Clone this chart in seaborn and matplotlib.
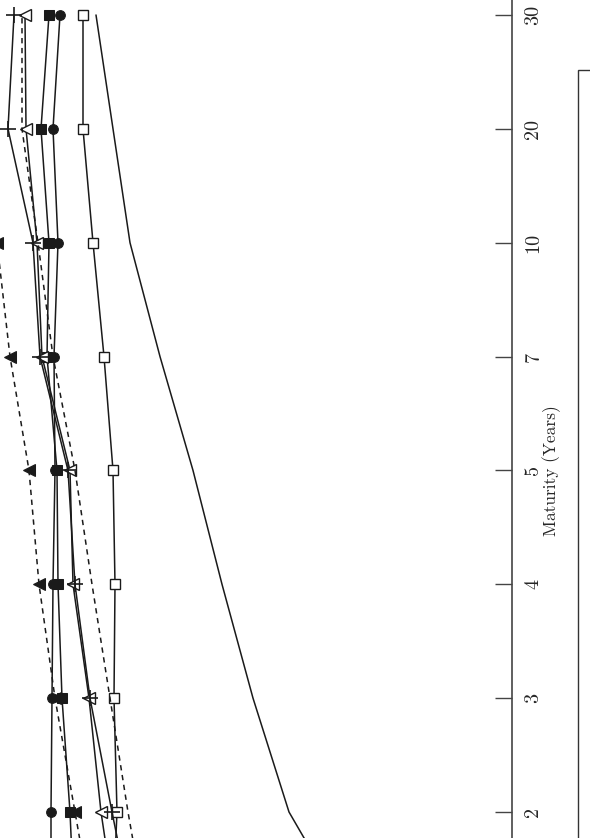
import matplotlib
matplotlib.use("Agg")
import matplotlib.pyplot as plt
import seaborn as sns
import numpy as np
from matplotlib.patches import Rectangle

# maturities (1 year sits just below the visible area)
maturity = ["1", "2", "3", "4", "5", "7", "10", "20", "30"]

# values (value axis runs right-to-left)
open_square = [4.88, 4.83, 4.86, 4.85, 4.87, 4.96, 5.07, 5.17, 5.17]
plain_line = [2.45, 3.11, 3.47, 3.78, 4.07, 4.40, 4.70, 4.87, 5.04]
filled_circle = [5.49, 5.49, 5.48, 5.47, 5.45, 5.46, 5.42, 5.47, 5.40]
filled_square = [5.25, 5.30, 5.38, 5.42, 5.43, 5.53, 5.51, 5.59, 5.51]
open_triangle = [4.82, 4.99, 5.11, 5.27, 5.30, 5.58, 5.63, 5.74, 5.75]
plus_series = [4.65, 4.88, 5.10, 5.25, 5.32, 5.60, 5.67, 5.92, 5.86]
dashed_line = [4.52, 4.72, 4.90, 5.08, 5.25, 5.47, 5.62, 5.78, 5.78]
filled_triangle = [5.05, 5.25, 5.45, 5.61, 5.71, 5.90, 6.03, 6.25, 6.35]

sns.set_style("white")
plt.rcParams["font.family"] = ["cmr10", "DejaVu Serif"]
plt.rcParams["axes.formatter.use_mathtext"] = True

pos = np.arange(len(maturity)) - 1

fig = plt.figure(figsize=(5.9, 8.38), dpi=100)
ax = fig.add_axes([0, 0, 512 / 590, 1])

ink = "#1a1a1a"
solid = dict(color=ink, lw=1.1, sort=False, estimator=None, ax=ax)
dash = (0, (3.5, 3))

sns.lineplot(x=plain_line, y=pos, **solid)
sns.lineplot(x=open_square, y=pos, marker="s", markersize=7,
             markerfacecolor="white", markeredgecolor=ink, markeredgewidth=1.0, **solid)
sns.lineplot(x=filled_circle, y=pos, marker="o", markersize=7,
             markerfacecolor=ink, markeredgecolor=ink, **solid)
sns.lineplot(x=filled_square, y=pos, marker="s", markersize=7,
             markerfacecolor=ink, markeredgecolor=ink, **solid)
sns.lineplot(x=open_triangle, y=pos, marker="<", markersize=8,
             markerfacecolor="white", markeredgecolor=ink, markeredgewidth=1.0, **solid)
sns.lineplot(x=plus_series, y=pos, marker="+", markersize=12,
             markeredgecolor=ink, markeredgewidth=1.2, **solid)
sns.lineplot(x=dashed_line, y=pos, color=ink, lw=1.1, ls=dash,
             sort=False, estimator=None, ax=ax)
sns.lineplot(x=filled_triangle, y=pos, marker="<", markersize=8,
             markerfacecolor=ink, markeredgecolor=ink, color=ink, lw=1.1,
             ls=dash, sort=False, estimator=None, ax=ax)

ax.set_xlim(6.0, 0.88)
ax.set_ylim((812 - 838) / 113.86, 812 / 113.86)

ax.set_xticks([])
ax.set_xlabel("")
ax.yaxis.tick_right()
ax.set_yticks(pos[1:])
ax.set_yticklabels(maturity[1:], rotation=90, va="center", fontsize=14.5)
ax.tick_params(axis="y", direction="in", length=12, width=1, color="#444", pad=9)
for side in ["left", "top", "bottom"]:
    ax.spines[side].set_visible(False)
ax.spines["right"].set_color("#444")
ax.spines["right"].set_linewidth(1.2)

ax.yaxis.set_label_position("right")
ax.set_ylabel("Maturity (Years)", rotation=90, fontsize=12.5)
lo, hi = ax.get_ylim()
ax.yaxis.set_label_coords(1.06, (3 - lo) / (hi - lo))

# legend frame, mostly outside the visible area
fig.add_artist(Rectangle((578 / 590, -0.1), 0.2, 1 - 70 / 838 + 0.1,
                         transform=fig.transFigure, fill=False, lw=1.0, edgecolor="#333"))

plt.savefig("out.png", dpi=100)
